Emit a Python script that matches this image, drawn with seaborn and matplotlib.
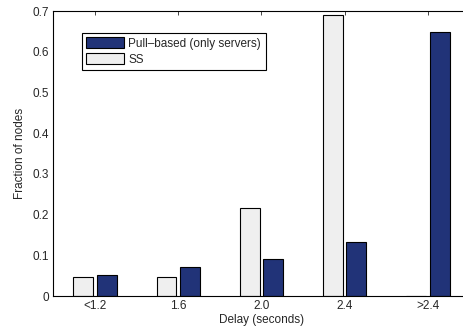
import pandas as pd
import seaborn as sns
import matplotlib.pyplot as plt

categories = ["<1.2", "1.6", "2.0", "2.4", ">2.4"]
ss_values = [0.046, 0.046, 0.216, 0.690, 0.0]
pull_values = [0.052, 0.072, 0.091, 0.133, 0.649]
series = ["SS", "Pull\u2013based (only servers)"]
colors = {"SS": "#efefef", "Pull\u2013based (only servers)": "#132a86"}

df = pd.DataFrame({
    "delay": categories * 2,
    "frac": ss_values + pull_values,
    "series": [series[0]] * 5 + [series[1]] * 5,
})

sns.set_style("white")
plt.rcParams['font.family'] = ['Liberation Sans', 'DejaVu Sans']

fig = plt.figure(figsize=(4.64, 3.31), dpi=100)
ax = fig.add_axes([0.115, 0.1057, 0.897, 0.861])

sns.barplot(data=df, x="delay", y="frac", hue="series", hue_order=series,
            order=categories, palette=colors, width=0.56, gap=0.15,
            edgecolor="black", linewidth=0.8, ax=ax)

fs = 8.5
ax.set_xlim(-0.5, 4.5)
ax.set_ylim(0, 0.7)
ax.set_yticks([0, 0.1, 0.2, 0.3, 0.4, 0.5, 0.6, 0.7])
ax.set_yticklabels(["0", "0.1", "0.2", "0.3", "0.4", "0.5", "0.6", "0.7"])
ax.set_xlabel("Delay (seconds)", fontsize=fs, labelpad=1)
ax.set_ylabel("Fraction of nodes", fontsize=fs, labelpad=5)
ax.tick_params(direction="in", length=3, width=0.6, labelsize=fs,
               top=True, right=True, pad=3)
for s in ax.spines.values():
    s.set_linewidth(0.8)
    s.set_color("black")

handles, labels = ax.get_legend_handles_labels()
ax.legend(handles[::-1], labels[::-1], loc="upper left",
          bbox_to_anchor=(0.068, 0.924), fontsize=fs, frameon=True,
          fancybox=False, edgecolor="black", framealpha=1,
          handlelength=3.2, handleheight=1.0, handletextpad=0.35,
          labelspacing=0.3, borderpad=0.4, borderaxespad=0)
ax.get_legend().get_frame().set_linewidth(0.8)

fig.savefig("out.png", dpi=100)
